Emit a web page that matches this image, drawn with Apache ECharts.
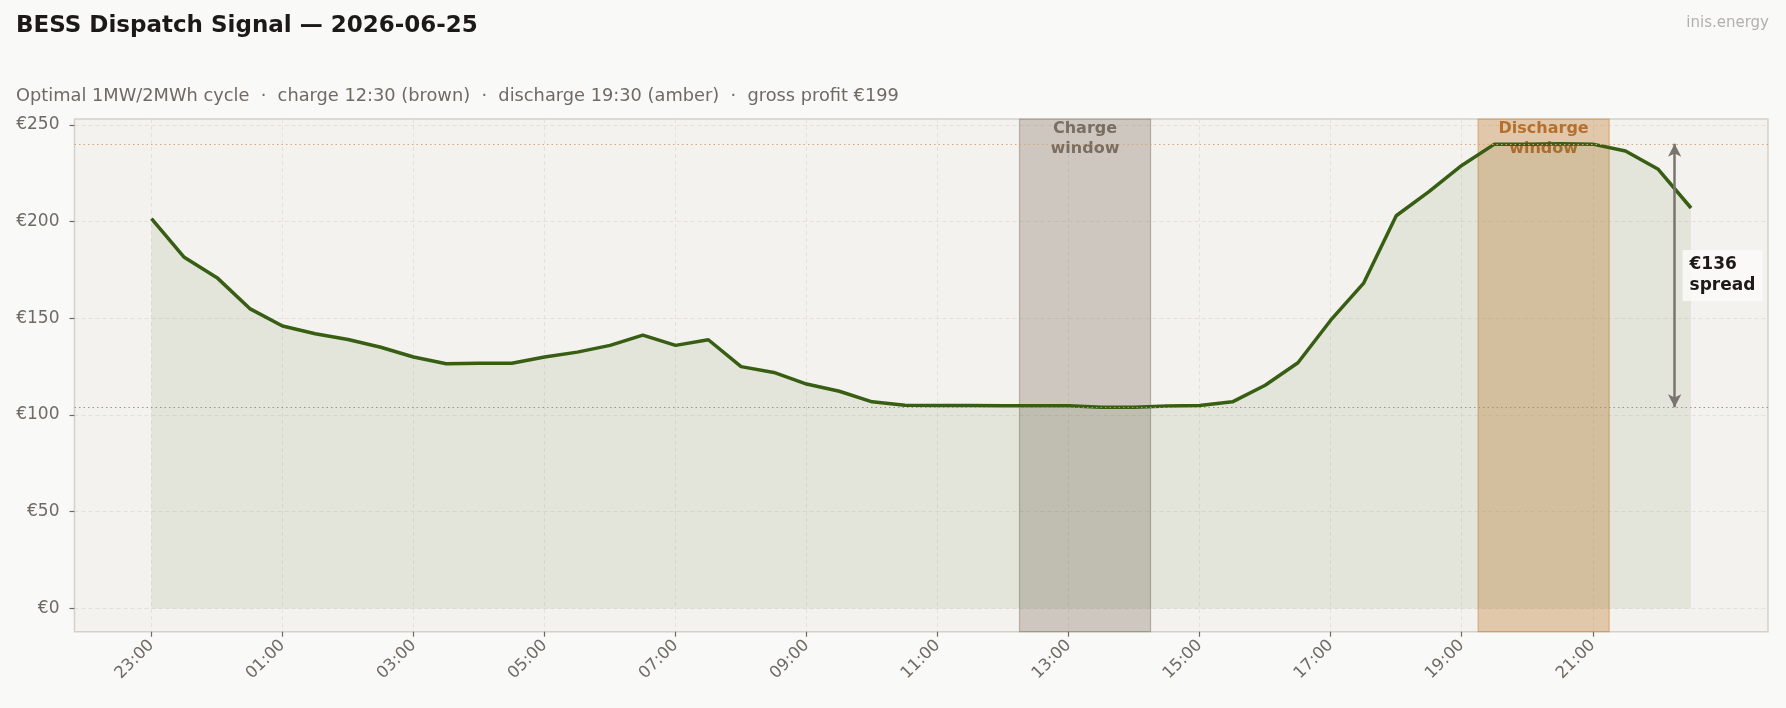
<!DOCTYPE html>
<html>
<head>
<meta charset="utf-8">
<title>BESS Dispatch Signal</title>
<script src="https://cdn.jsdelivr.net/npm/echarts@6/dist/echarts.min.js"></script>
<style>
    html, body { margin: 0; padding: 0; background: #f9f9f7; }
    #chart { width: 1786px; height: 708px; }
</style>
</head>
<body>
<div id="chart"></div>
<script>
//half-hourly price slots, starting 23:00 the previous evening
let times = [
    "23:00", "23:30", "00:00", "00:30", "01:00", "01:30", "02:00", "02:30",
    "03:00", "03:30", "04:00", "04:30", "05:00", "05:30", "06:00", "06:30",
    "07:00", "07:30", "08:00", "08:30", "09:00", "09:30", "10:00", "10:30",
    "11:00", "11:30", "12:00", "12:30", "13:00", "13:30", "14:00", "14:30",
    "15:00", "15:30", "16:00", "16:30", "17:00", "17:30", "18:00", "18:30",
    "19:00", "19:30", "20:00", "20:30", "21:00", "21:30", "22:00", "22:30"
];
//day-ahead price €/MWh
let prices = [
    201.5, 181.5, 171.0, 155.0, 146.0, 142.0, 139.0, 135.0,
    130.0, 126.5, 126.8, 126.8, 130.0, 132.5, 136.0, 141.3,
    136.0, 138.9, 125.0, 122.0, 116.0, 112.3, 106.8, 105.0,
    104.9, 104.9, 104.8, 104.8, 104.8, 104.0, 104.0, 104.7,
    104.9, 106.8, 115.4, 127.0, 149.0, 168.0, 203.0, 215.5,
    229.0, 240.0, 240.0, 240.2, 240.0, 236.5, 227.0, 207.0
];
let tickTimes = ["23:00", "01:00", "03:00", "05:00", "07:00", "09:00", "11:00", "13:00", "15:00", "17:00", "19:00", "21:00"];
let priceTicks = [0, 50, 100, 150, 200, 250];
let chargeWindow = ["12:15", "14:15"];
let dischargeWindow = ["19:15", "21:15"];
let spreadAt = "22:15";

let font = "DejaVu Sans";
let grey = "#6f6a64";

//hours after 23:00
function toHours(t) {
    let p = t.split(":");
    let h = +p[0] + p[1] / 60;
    return (h - 23 + 24) % 24;
}
function fmtHours(v) {
    let h = Math.floor(v + 23 + 1e-6) % 24;
    let m = Math.round((v - Math.floor(v + 1e-6)) * 60);
    return (h < 10 ? "0" : "") + h + ":" + (m < 10 ? "0" : "") + m;
}

let lineData = [];
for (var i = 0; i < times.length; i++) {
    lineData.push([toHours(times[i]), prices[i]]);
}
let pMax = Math.max.apply(null, prices);
let pMin = Math.min.apply(null, prices);
let spread = Math.round(pMax - pMin);

let myChart = echarts.init(document.getElementById("chart"));
let option = {
    backgroundColor: "#f9f9f7",
    animation: false,
    title: [{
        text: "BESS Dispatch Signal — 2026-06-25",
        left: 16, top: 13.5, padding: 0,
        textStyle: { fontFamily: font, fontSize: 23, fontWeight: "bold", color: "#1c1917", lineHeight: 26 }
    }, {
        text: "Optimal 1MW/2MWh cycle  ·  charge 12:30 (brown)  ·  discharge 19:30 (amber)  ·  gross profit €199",
        left: 16, top: 86.5, padding: 0,
        textStyle: { fontFamily: font, fontSize: 17.8, fontWeight: "normal", color: grey, lineHeight: 20 }
    }, {
        text: "inis.energy",
        right: 17, top: 14.5, padding: 0,
        textStyle: { fontFamily: font, fontSize: 15, fontWeight: "normal", color: "#b3b0ab", lineHeight: 18 }
    }],
    grid: {
        show: true,
        left: 74.5, right: 18, top: 119, bottom: 76.3,
        backgroundColor: "#f3f2ee",
        borderColor: "#d5d1ca",
        borderWidth: 1.5
    },
    xAxis: {
        type: "value",
        min: -1.175,
        max: 24.675,
        axisLine: { show: false, onZero: false },
        axisTick: {
            show: true, length: 5, customValues: tickTimes.map(toHours),
            lineStyle: { color: grey, width: 1.2 }
        },
        axisLabel: {
            customValues: tickTimes.map(toHours),
            formatter: fmtHours,
            rotate: 45, margin: 11,
            fontFamily: font, fontSize: 16.5, color: grey
        },
        splitLine: { show: true, lineStyle: { color: "#e4e1da", type: [4, 3], width: 1 } }
    },
    yAxis: {
        type: "value",
        min: -12,
        max: 253,
        axisLine: { show: false, onZero: false },
        axisTick: {
            show: true, length: 5, customValues: priceTicks,
            lineStyle: { color: grey, width: 1.2 }
        },
        axisLabel: {
            customValues: priceTicks,
            formatter: function (v) { return "€" + v; },
            margin: 15,
            fontFamily: font, fontSize: 17, color: grey
        },
        splitLine: { show: true, lineStyle: { color: "#e4e1da", type: [4, 3], width: 1 } }
    },
    series: [{
        name: "price",
        type: "line",
        data: lineData,
        showSymbol: false,
        z: 4,
        lineStyle: { color: "#375e13", width: 3.5 },
        areaStyle: { color: "rgba(55,94,19,0.12)", origin: 0 },
        markArea: {
            silent: true,
            data: [
                [{
                    xAxis: toHours(chargeWindow[0]),
                    name: "Charge\nwindow",
                    itemStyle: { color: "rgba(125,110,95,0.32)", borderColor: "rgba(125,110,95,0.45)", borderWidth: 1.2 },
                    label: { color: "#7a6e62" }
                }, { xAxis: toHours(chargeWindow[1]) }],
                [{
                    xAxis: toHours(dischargeWindow[0]),
                    name: "Discharge\nwindow",
                    itemStyle: { color: "rgba(196,124,52,0.36)", borderColor: "rgba(205,130,60,0.5)", borderWidth: 1.2 },
                    label: { color: "#b5702e" }
                }, { xAxis: toHours(dischargeWindow[1]) }]
            ],
            label: {
                show: true, position: "insideTop", distance: 0, offset: [0, 0],
                fontFamily: font, fontSize: 16, fontWeight: "bold", lineHeight: 20, align: "center"
            }
        }
    }, {
        //peak / trough reference lines
        name: "levels",
        type: "line",
        data: [],
        z: 5,
        markLine: {
            silent: true,
            symbol: ["none", "none"],
            label: { show: false },
            data: [
                { yAxis: pMax, lineStyle: { color: "#dba57c", type: [1.5, 3], width: 1.2 } },
                { yAxis: pMin, lineStyle: { color: "#9c958d", type: [1.5, 3], width: 1.2 } }
            ]
        }
    }, {
        //spread arrow
        name: "spread",
        type: "line",
        data: [],
        z: 6,
        markLine: {
            silent: true,
            symbol: ["arrow", "arrow"],
            symbolSize: [10, 13],
            label: { show: false },
            lineStyle: { color: "#7a746e", width: 2.5, type: "solid" },
            data: [[{ coord: [toHours(spreadAt), pMin] }, { coord: [toHours(spreadAt), pMax] }]]
        },
        markPoint: {
            silent: true,
            symbol: "circle",
            symbolSize: 1,
            itemStyle: { color: "rgba(0,0,0,0)" },
            label: {
                show: true, position: "right", distance: 7.4,
                formatter: "€" + spread + "\nspread",
                fontFamily: font, fontSize: 17, fontWeight: "bold", color: "#1c1917",
                lineHeight: 21, align: "left",
                backgroundColor: "rgba(250,250,248,0.85)",
                padding: [5, 7, 4, 7]
            },
            data: [{ coord: [toHours(spreadAt), (pMax + pMin) / 2] }]
        }
    }]
};
myChart.setOption(option);
</script>
</body>
</html>
